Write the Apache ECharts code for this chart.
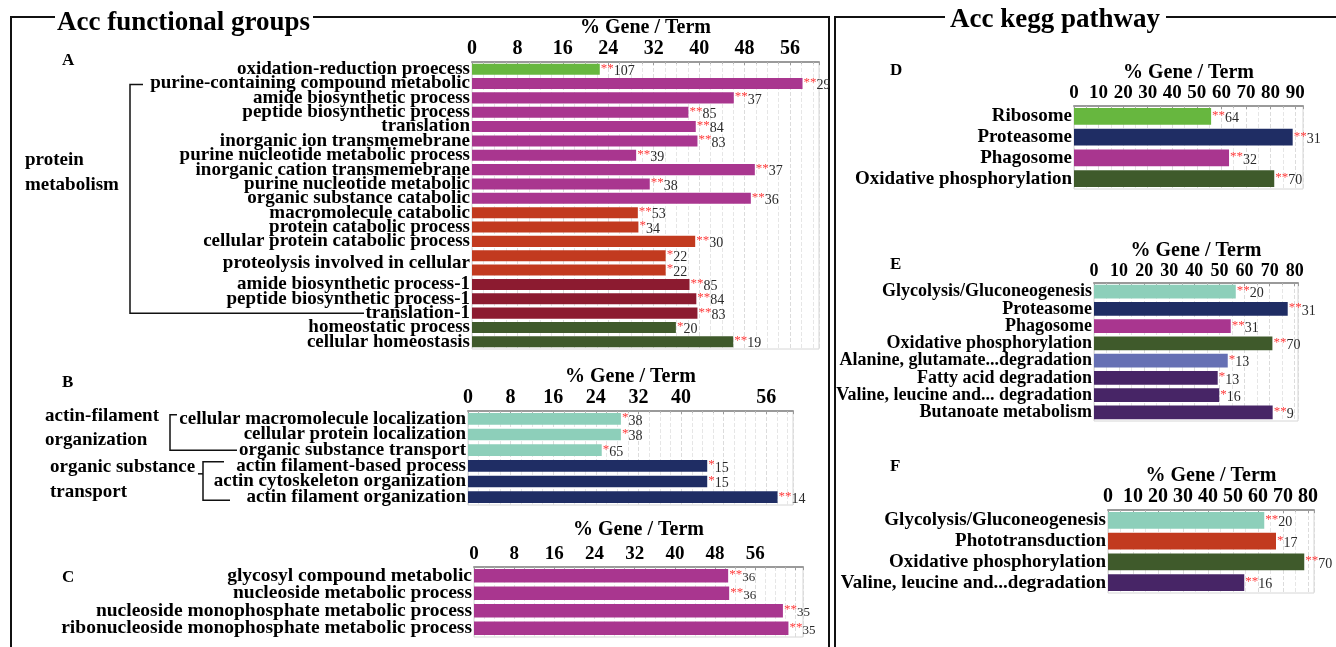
<!DOCTYPE html>
<html>
<head>
<meta charset="utf-8">
<title>Acc functional groups / Acc kegg pathway</title>
<script src="https://cdn.jsdelivr.net/npm/echarts@6/dist/echarts.min.js"></script>
<style>
  html, body { margin: 0; padding: 0; background: #fff; }
  #chart { width: 1336px; height: 647px; }
</style>
</head>
<body>
<div id="chart"></div>
<script>
const SERIF = '"Liberation Serif", "Times New Roman", serif';

// ---------- A: protein metabolism GO terms ----------
const catsA = [
  'oxidation-reduction proecess', 'purine-containing compound metabolic', 'amide biosynthetic process',
  'peptide biosynthetic process', 'translation', 'inorganic ion transmemebrane',
  'purine nucleotide metabolic process', 'inorganic cation transmemebrane', 'purine nucleotide metabolic',
  'organic substance catabolic', 'macromolecule catabolic', 'protein catabolic process',
  'cellular protein catabolic process', 'proteolysis involved in cellular', '',
  'amide biosynthetic process-1', 'peptide biosynthetic process-1', 'translation-1',
  'homeostatic process', 'cellular homeostasis'
];
const valsA = [22.5, 58.2, 46.1, 38.1, 39.4, 39.7, 28.9, 49.8, 31.3, 49.1,
               29.2, 29.3, 39.3, 34.1, 34.1, 38.3, 39.5, 39.7, 35.9, 46.0];
const countsA = [107, 29, 37, 85, 84, 83, 39, 37, 38, 36, 53, 34, 30, 22, 22, 85, 84, 83, 20, 19];
const starsA = ['**', '**', '**', '**', '**', '**', '**', '**', '**', '**',
                '**', '*', '**', '*', '*', '**', '**', '**', '*', '**'];
const groupsA = ['redox', 'purine', 'purine', 'purine', 'purine', 'purine', 'purine', 'purine', 'purine', 'purine',
                 'catabolic', 'catabolic', 'catabolic', 'catabolic', 'catabolic',
                 'biosynth', 'biosynth', 'biosynth', 'homeo', 'homeo'];
const ticksA = [0, 8, 16, 24, 32, 40, 48, 56];

// ---------- B: actin filament / substance transport ----------
const catsB = ['cellular macromolecule localization', 'cellular protein localization', 'organic substance transport',
               'actin filament-based process', 'actin cytoskeleton organization', 'actin filament organization'];
const valsB = [28.7, 28.7, 25.1, 44.9, 44.9, 58.1];
const countsB = [38, 38, 65, 15, 15, 14];
const starsB = ['*', '*', '*', '*', '*', '**'];
const groupsB = ['local', 'local', 'local', 'actin', 'actin', 'actin'];
const ticksB = [0, 8, 16, 24, 32, 40, 56];

// ---------- C: nucleoside metabolism ----------
const catsC = ['glycosyl compound metabolic', 'nucleoside metabolic process',
               'nucleoside monophosphate metabolic process', 'ribonucleoside monophosphate metabolic process'];
const valsC = [50.6, 50.8, 61.5, 62.6];
const countsC = [36, 36, 35, 35];
const starsC = ['**', '**', '**', '**'];
const groupsC = ['purine', 'purine', 'purine', 'purine'];
const ticksC = [0, 8, 16, 24, 32, 40, 48, 56];

// ---------- D: KEGG ----------
const catsD = ['Ribosome', 'Proteasome', 'Phagosome', 'Oxidative phosphorylation'];
const valsD = [55.8, 89.0, 63.1, 81.5];
const countsD = [64, 31, 32, 70];
const starsD = ['**', '**', '**', '**'];
const groupsD = ['redox', 'actin', 'purine', 'homeo'];
const ticksD = [0, 10, 20, 30, 40, 50, 60, 70, 80, 90];

// ---------- E: KEGG ----------
const catsE = ['Glycolysis/Gluconeogenesis', 'Proteasome', 'Phagosome', 'Oxidative phosphorylation',
               'Alanine, glutamate...degradation', 'Fatty acid degradation',
               'Valine, leucine and... degradation', 'Butanoate metabolism'];
const valsE = [56.5, 77.2, 54.5, 71.1, 53.3, 49.3, 49.9, 71.2];
const countsE = [20, 31, 31, 70, 13, 13, 16, 9];
const starsE = ['**', '**', '**', '**', '*', '*', '*', '**'];
const groupsE = ['local', 'actin', 'purine', 'homeo', 'amino', 'lipid', 'lipid', 'lipid'];
const ticksE = [0, 10, 20, 30, 40, 50, 60, 70, 80];

// ---------- F: KEGG ----------
const catsF = ['Glycolysis/Gluconeogenesis', 'Phototransduction', 'Oxidative phosphorylation',
               'Valine, leucine and...degradation'];
const valsF = [62.5, 67.2, 78.5, 54.5];
const countsF = [20, 17, 70, 16];
const starsF = ['**', '*', '**', '**'];
const groupsF = ['local', 'catabolic', 'homeo', 'lipid'];
const ticksF = [0, 10, 20, 30, 40, 50, 60, 70, 80];

// colour per functional group
const palette = {
  redox: '#67b73f', purine: '#a9368f', catabolic: '#c23a1f', biosynth: '#8c1b30',
  homeo: '#3f5a2b', local: '#8dcfba', actin: '#1f2d64', amino: '#6670b4', lipid: '#472566'
};

const chart = echarts.init(document.getElementById('chart'), null, { renderer: 'canvas' });

const grids = [], xAxes = [], yAxes = [], series = [];

function addPanel(cfg) {
  const i = grids.length;
  grids.push({
    left: cfg.box[0], top: cfg.box[1], width: cfg.box[2], height: cfg.box[3],
    show: true, borderColor: '#d6d6d6', borderWidth: 1, backgroundColor: '#fff'
  });
  xAxes.push({
    gridIndex: i, type: 'value', position: 'top', min: 0, max: cfg.max, interval: cfg.interval,
    name: '% Gene / Term', nameLocation: 'middle', nameGap: cfg.nameGap,
    nameTextStyle: { fontFamily: SERIF, fontWeight: 'bold', fontSize: 20, color: '#000' },
    axisLine: { show: true, lineStyle: { color: '#9a9a9a', width: 2 } },
    axisTick: { show: true, inside: true, length: 3, lineStyle: { color: '#9a9a9a' } },
    minorTick: { show: true, splitNumber: cfg.minor, length: 2, lineStyle: { color: '#b5b5b5' } },
    axisLabel: {
      fontFamily: SERIF, fontWeight: 'bold', fontSize: cfg.tickFont, color: '#000', margin: 3,
      formatter: v => (cfg.ticks.indexOf(v) >= 0 ? String(v) : '')
    },
    splitLine: { show: true, lineStyle: { type: 'dashed', color: '#dcdcdc' } },
    minorSplitLine: { show: true, lineStyle: { type: 'dashed', color: '#e6e6e6' } }
  });
  yAxes.push({
    gridIndex: i, type: 'category', data: cfg.cats, inverse: true,
    axisLine: { show: false }, axisTick: { show: false },
    axisLabel: {
      interval: 0, hideOverlap: false,
      fontFamily: SERIF, fontWeight: 'bold', fontSize: cfg.catFont, color: '#000', margin: 2,
      formatter: cfg.catFormatter || (v => v),
      rich: {
        low: { fontFamily: SERIF, fontWeight: 'bold', fontSize: cfg.catFont, color: '#000', padding: [15, 0, 0, 0] }
      }
    }
  });
  series.push({
    type: 'bar', xAxisIndex: i, yAxisIndex: i, barCategoryGap: cfg.gap,
    data: cfg.vals.map((v, k) => ({ value: v, itemStyle: { color: palette[cfg.groups[k]] } })),
    label: {
      show: true, position: 'right', distance: 1,
      formatter: p => '{s|' + cfg.stars[p.dataIndex] + '}{n|' + cfg.counts[p.dataIndex] + '}',
      rich: {
        s: { color: '#ff3a3a', fontSize: 13, fontFamily: SERIF, padding: [0, 0, 2, 0] },
        n: { color: '#2a2a2a', fontSize: cfg.numFont, fontFamily: SERIF, padding: [4, 0, 0, 0] }
      }
    },
    silent: true
  });
}

addPanel({ box: [472, 62, 347, 287], max: 61.1, interval: 8, minor: 4, ticks: ticksA, tickFont: 20, nameGap: 22,
  cats: catsA, vals: valsA, counts: countsA, stars: starsA, groups: groupsA, catFont: 19, numFont: 14, gap: '23%',
  catFormatter: (v, idx) => (idx === 13 ? '{low|' + v + '}' : v) });
addPanel({ box: [468, 411, 325, 94], max: 61, interval: 8, minor: 4, ticks: ticksB, tickFont: 20, nameGap: 23,
  cats: catsB, vals: valsB, counts: countsB, stars: starsB, groups: groupsB, catFont: 19, numFont: 14, gap: '26%' });
addPanel({ box: [474, 567, 329, 70], max: 65.5, interval: 8, minor: 4, ticks: ticksC, tickFont: 19, nameGap: 27,
  cats: catsC, vals: valsC, counts: countsC, stars: starsC, groups: groupsC, catFont: 19.5, numFont: 13, gap: '24%' });
addPanel({ box: [1074, 106, 229, 83], max: 93.2, interval: 10, minor: 2, ticks: ticksD, tickFont: 19, nameGap: 18,
  cats: catsD, vals: valsD, counts: countsD, stars: starsD, groups: groupsD, catFont: 19, numFont: 14, gap: '20%' });
addPanel({ box: [1094, 283, 204, 138], max: 81.3, interval: 10, minor: 2, ticks: ticksE, tickFont: 18, nameGap: 18,
  cats: catsE, vals: valsE, counts: countsE, stars: starsE, groups: groupsE, catFont: 18, numFont: 14, gap: '19%' });
addPanel({ box: [1108, 510, 206, 83], max: 82.4, interval: 10, minor: 2, ticks: ticksF, tickFont: 20, nameGap: 22,
  cats: catsF, vals: valsF, counts: countsF, stars: starsF, groups: groupsF, catFont: 19, numFont: 14, gap: '20%' });

const frameLine = { stroke: '#111', lineWidth: 2, fill: null };
const txt = (x, y, s, size, align) => ({
  type: 'text', x: x, y: y, silent: true,
  style: { text: s, fontFamily: SERIF, fontWeight: 'bold', fontSize: size, fill: '#000',
           align: align || 'left', verticalAlign: 'middle' }
});

const graphics = [
  // outer frames with headings set into the top edge
  { type: 'polyline', shape: { points: [[55, 17], [11, 17], [11, 647]] }, style: frameLine, silent: true },
  { type: 'polyline', shape: { points: [[313, 17], [829, 17], [829, 647]] }, style: frameLine, silent: true },
  { type: 'polyline', shape: { points: [[945, 17], [835, 17], [835, 647]] }, style: frameLine, silent: true },
  { type: 'polyline', shape: { points: [[1166, 17], [1336, 17]] }, style: frameLine, silent: true },
  txt(57, 23, 'Acc functional groups', 27),
  txt(950, 20, 'Acc kegg pathway', 27),
  // panel letters
  txt(62, 61, 'A', 17), txt(62, 383, 'B', 17), txt(62, 578, 'C', 17),
  txt(890, 71, 'D', 17), txt(890, 265, 'E', 17), txt(890, 467, 'F', 17),
  // group names
  txt(25, 160, 'protein', 19), txt(25, 185, 'metabolism', 19),
  txt(45, 416, 'actin-filament', 19), txt(45, 440, 'organization', 19),
  txt(50, 467, 'organic substance', 19), txt(50, 492, 'transport', 19)
];

chart.setOption({
  animation: false,
  backgroundColor: '#fff',
  grid: grids, xAxis: xAxes, yAxis: yAxes, series: series,
  graphic: graphics
});

// brackets tying category rows to their group names
const rowY = (axis, idx) => chart.convertToPixel({ yAxisIndex: axis }, idx);
const bracket = pts => ({ type: 'polyline', shape: { points: pts },
  style: { stroke: '#111', lineWidth: 1.5, fill: null }, silent: true });

const a1 = rowY(0, 1), a17 = rowY(0, 17);
const b0 = rowY(1, 0), b2 = rowY(1, 2), b3 = rowY(1, 3), b5 = rowY(1, 5);

chart.setOption({
  graphic: graphics.concat([
    bracket([[143, a1 + 1], [130, a1 + 1], [130, a17], [364, a17]]),
    bracket([[177, b0 - 4], [170, b0 - 4], [170, b2], [237, b2]]),
    bracket([[224, b3 - 4], [203, b3 - 4], [203, b5 + 3], [230, b5 + 3]]),
    bracket([[198, b3 + 8], [203, b3 + 8]])
  ])
});
</script>
</body>
</html>
